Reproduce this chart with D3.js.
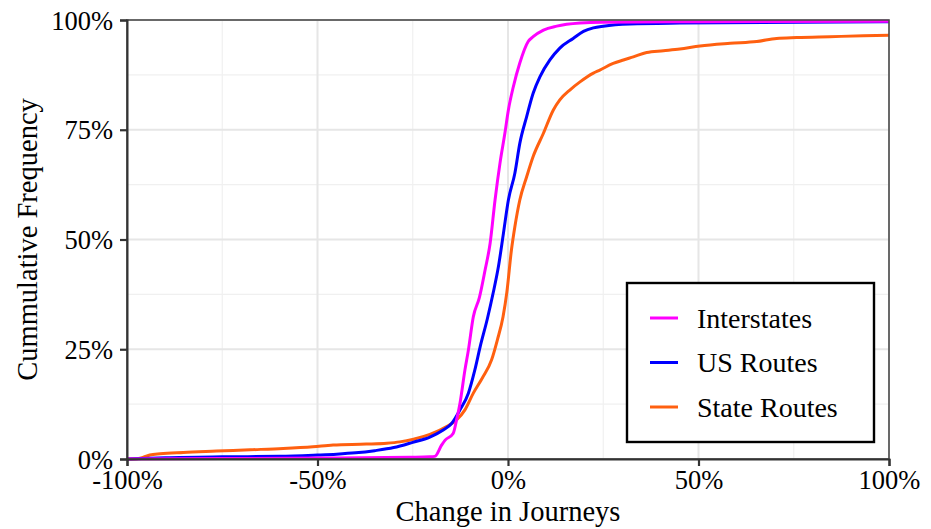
<!DOCTYPE html>
<html>
<head>
<meta charset="utf-8">
<script src="https://cdn.jsdelivr.net/npm/d3@7"></script>
<style>
  html, body { margin: 0; padding: 0; background: #ffffff; }
  svg { display: block; }
  svg text { font-family: "Liberation Serif", Tinos, "Times New Roman", serif; }
</style>
</head>
<body>
<svg id="chart" width="931" height="529"></svg>
<script>
// Empirical cumulative distribution of the change in journeys by road class
const seriesNames = ["Interstates", "US Routes", "State Routes"];
const seriesColors = ["#FF00FF", "#0000FF", "#FF6010"];

// change in journeys (%) and cumulative share (%) for each road class
const interstatesChange = [-100, -75, -50, -25.7, -20.5, -19.2, -17.4, -16.5, -14.4, -13.5, -12.6, -11.3, -10.4, -9.1, -7.5, -6.0, -4.7, -3.4, -2.1, -0.8, 0.1, 1.4, 3.1, 5.3, 6.6, 9.3, 12.8, 18.9, 24.9, 50, 100];
const interstatesCum    = [0, 0.1, 0.2, 0.4, 0.5, 0.6, 3.2, 4.3, 5.8, 8.9, 12.7, 20.3, 24.8, 32.4, 36.8, 43.1, 49.1, 59.0, 67.4, 74.3, 79.5, 84.8, 90.2, 95.1, 96.2, 97.7, 98.6, 99.3, 99.5, 99.6, 99.7];

const usChange = [-100, -90, -75, -60, -50, -45, -40, -35, -30, -25, -20.5, -17.0, -14.8, -12.6, -10.4, -8.7, -7.3, -5.4, -3.9, -2.5, -1.2, 0.1, 1.8, 3.1, 4.9, 6.6, 8.4, 11.0, 13.6, 17.1, 19.8, 22.4, 25.0, 32.0, 45.1, 100];
const usCum    = [0, 0.3, 0.5, 0.6, 0.9, 1.1, 1.4, 1.9, 2.6, 3.8, 5.0, 6.6, 8.1, 11.2, 15.0, 20.3, 25.6, 32.0, 37.8, 43.9, 51.4, 59.0, 65.1, 71.9, 78.0, 83.3, 87.1, 90.9, 93.6, 95.8, 97.4, 98.2, 98.6, 99.1, 99.3, 99.6];

const stateChange = [-100, -97, -95.7, -94.0, -91.3, -85.2, -76.5, -67.7, -59.0, -51.2, -45.9, -37.2, -31.8, -28.4, -24.8, -20.5, -16.1, -13.5, -11.3, -9.1, -6.7, -4.3, -2.8, -1.3, -0.3, 0.9, 1.8, 3.1, 4.9, 6.6, 9.3, 11.9, 13.6, 16.3, 18.9, 22.4, 24.1, 27.6, 30.3, 32.9, 36.4, 40.8, 45.1, 50.4, 58.3, 65.3, 70.5, 75.8, 84.5, 93.3, 100];
const stateCum    = [0, 0.1, 0.4, 0.9, 1.2, 1.5, 1.8, 2.1, 2.4, 2.8, 3.2, 3.4, 3.6, 3.9, 4.5, 5.6, 7.4, 8.9, 11.2, 15.0, 18.5, 22.6, 27.1, 32.4, 38.0, 47.6, 52.9, 59.0, 64.3, 68.9, 74.2, 79.5, 81.8, 84.1, 85.9, 87.9, 88.6, 90.1, 90.9, 91.6, 92.6, 93.0, 93.4, 94.1, 94.7, 95.1, 95.8, 96.0, 96.2, 96.4, 96.5];

const xTicks = [-100, -50, 0, 50, 100];
const xMinor = [-75, -25, 25, 75];
const yTicks = [0, 25, 50, 75, 100];
const yMinor = [12.5, 37.5, 62.5, 87.5];

const xTitle = "Change in Journeys";
const yTitle = "Cummulative Frequency";

const series = [
  { name: seriesNames[0], color: seriesColors[0], x: interstatesChange, y: interstatesCum },
  { name: seriesNames[1], color: seriesColors[1], x: usChange, y: usCum },
  { name: seriesNames[2], color: seriesColors[2], x: stateChange, y: stateCum }
];

const W = 931, H = 529;
const margin = { top: 20, right: 42, bottom: 70, left: 127 };
const iw = W - margin.left - margin.right;
const ih = H - margin.top - margin.bottom;
const serif = "'Liberation Serif', Tinos, 'Times New Roman', serif";

const svg = d3.select("#chart");
const g = svg.append("g").attr("transform", `translate(${margin.left},${margin.top})`);

const x = d3.scaleLinear().domain([-100, 100]).range([0, iw]);
const y = d3.scaleLinear().domain([0, 100]).range([ih, 0]);
const pct = d => d + "%";

// grid: minor lines first, then major
g.append("g").selectAll("line").data(yMinor).join("line")
  .attr("x1", 0).attr("x2", iw).attr("y1", d => y(d)).attr("y2", d => y(d))
  .attr("stroke", "#f0f0f0").attr("stroke-width", 1.2);
g.append("g").selectAll("line").data(xMinor).join("line")
  .attr("y1", 0).attr("y2", ih).attr("x1", d => x(d)).attr("x2", d => x(d))
  .attr("stroke", "#f0f0f0").attr("stroke-width", 1.2);
g.append("g").selectAll("line").data(yTicks).join("line")
  .attr("x1", 0).attr("x2", iw).attr("y1", d => y(d)).attr("y2", d => y(d))
  .attr("stroke", "#e6e6e6").attr("stroke-width", 2);
g.append("g").selectAll("line").data(xTicks).join("line")
  .attr("y1", 0).attr("y2", ih).attr("x1", d => x(d)).attr("x2", d => x(d))
  .attr("stroke", "#e6e6e6").attr("stroke-width", 2);

// lines (state routes underneath, interstates on top)
const line = d3.line().curve(d3.curveMonotoneX);
series.slice().reverse().forEach(s => {
  const pts = s.x.map((v, i) => [x(v), y(s.y[i])]);
  g.append("path").attr("d", line(pts))
    .attr("fill", "none").attr("stroke", s.color)
    .attr("stroke-width", 3).attr("stroke-linejoin", "round");
});

// panel border
g.append("rect").attr("x", 0).attr("y", 0).attr("width", iw).attr("height", ih)
  .attr("fill", "none").attr("stroke", "#4a4a4a").attr("stroke-width", 1.6);

// axes
const xAxis = g.append("g").attr("transform", `translate(0,${ih})`)
  .call(d3.axisBottom(x).tickValues(xTicks).tickFormat(pct).tickSize(7).tickPadding(5));
const yAxis = g.append("g")
  .call(d3.axisLeft(y).tickValues(yTicks).tickFormat(pct).tickSize(7).tickPadding(7));
[xAxis, yAxis].forEach(a => {
  a.attr("font-family", serif).attr("font-size", 26.5);
  a.select(".domain").attr("stroke", "#333").attr("stroke-width", 2);
  a.selectAll(".tick line").attr("stroke", "#333").attr("stroke-width", 2.2);
  a.selectAll(".tick text").attr("fill", "#000")
    .style("font-family", serif).style("font-size", "26.5px");
});
xAxis.selectAll(".tick text").attr("dy", "0.68em");
yAxis.selectAll(".tick text").attr("dy", "0.34em");

// axis titles
svg.append("text").attr("x", margin.left + iw / 2).attr("y", 521)
  .attr("text-anchor", "middle").style("font-family", serif).style("font-size", "28.5px").attr("fill", "#000")
  .text(xTitle);
svg.append("text").attr("transform", `translate(37,${margin.top + ih / 2}) rotate(-90)`)
  .attr("text-anchor", "middle").style("font-family", serif).style("font-size", "28.5px").attr("fill", "#000")
  .text(yTitle);

// legend
const lg = svg.append("g").attr("transform", "translate(627,283)");
lg.append("rect").attr("width", 247).attr("height", 159)
  .attr("fill", "#fff").attr("stroke", "#000").attr("stroke-width", 2.4);
series.forEach((s, i) => {
  const cy = 35 + i * 44.5;
  lg.append("line").attr("x1", 23).attr("x2", 51).attr("y1", cy).attr("y2", cy)
    .attr("stroke", s.color).attr("stroke-width", 3);
  lg.append("text").attr("x", 70).attr("y", cy).attr("dy", "0.34em")
    .style("font-family", serif).style("font-size", "28px").attr("fill", "#000").text(s.name);
});
</script>
</body>
</html>
